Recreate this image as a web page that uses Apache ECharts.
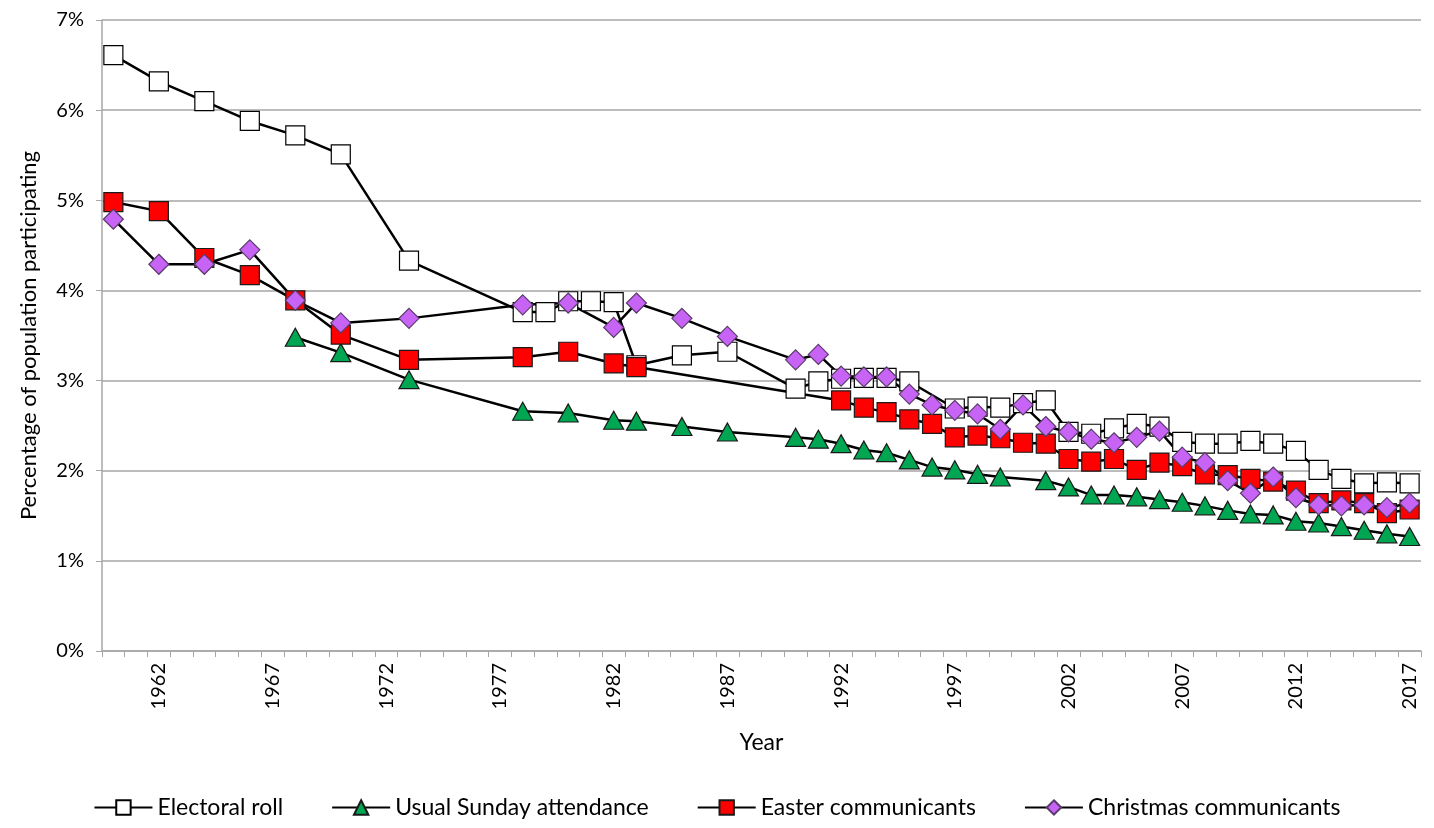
<!DOCTYPE html>
<html>
<head>
<meta charset="utf-8">
<script src="https://cdn.jsdelivr.net/npm/echarts@6/dist/echarts.min.js"></script>
<style>
html,body{margin:0;padding:0;background:#fff;}
#chart{width:1434px;height:828px;}
</style>
</head>
<body>
<div id="chart"></div>
<script>
// Categories
const years = [];
for (let y = 1960; y <= 2017; y++) years.push(String(y));
const yTickLabels = ['0%','1%','2%','3%','4%','5%','6%','7%'];

// Electoral roll
const electoralYears = [1960,1962,1964,1966,1968,1970,1973,1978,1979,1980,1981,1982,1983,1985,1987,1990,1991,1992,1993,1994,1995,1997,1998,1999,2000,2001,2002,2003,2004,2005,2006,2007,2008,2009,2010,2011,2012,2013,2014,2015,2016,2017];
const electoralValues = [6.61,6.32,6.10,5.88,5.72,5.51,4.33,3.76,3.76,3.88,3.88,3.87,3.17,3.28,3.32,2.91,2.99,3.02,3.03,3.03,2.99,2.69,2.71,2.70,2.75,2.78,2.43,2.41,2.47,2.52,2.49,2.32,2.30,2.30,2.33,2.30,2.22,2.01,1.91,1.86,1.87,1.86];

// Usual Sunday attendance
const sundayYears = [1968,1970,1973,1978,1980,1982,1983,1985,1987,1990,1991,1992,1993,1994,1995,1996,1997,1998,1999,2001,2002,2003,2004,2005,2006,2007,2008,2009,2010,2011,2012,2013,2014,2015,2016,2017];
const sundayValues = [3.48,3.31,3.01,2.66,2.64,2.56,2.55,2.49,2.43,2.37,2.35,2.30,2.23,2.20,2.12,2.04,2.01,1.96,1.93,1.89,1.82,1.73,1.73,1.71,1.68,1.65,1.61,1.56,1.52,1.51,1.44,1.42,1.38,1.34,1.30,1.27];

// Easter communicants
const easterYears = [1960,1962,1964,1966,1968,1970,1973,1978,1980,1982,1983,1992,1993,1994,1995,1996,1997,1998,1999,2000,2001,2002,2003,2004,2005,2006,2007,2008,2009,2010,2011,2012,2013,2014,2015,2016,2017];
const easterValues = [4.98,4.88,4.36,4.17,3.89,3.51,3.23,3.26,3.32,3.19,3.15,2.78,2.70,2.65,2.57,2.52,2.37,2.39,2.36,2.31,2.30,2.13,2.10,2.13,2.01,2.09,2.05,1.96,1.95,1.91,1.88,1.78,1.64,1.67,1.64,1.53,1.57];

// Christmas communicants
const christmasYears = [1960,1962,1964,1966,1968,1970,1973,1978,1980,1982,1983,1985,1987,1990,1991,1992,1993,1994,1995,1996,1997,1998,1999,2000,2001,2002,2003,2004,2005,2006,2007,2008,2009,2010,2011,2012,2013,2014,2015,2016,2017];
const christmasValues = [4.79,4.29,4.29,4.45,3.89,3.64,3.69,3.84,3.86,3.59,3.86,3.69,3.49,3.23,3.29,3.05,3.04,3.04,2.85,2.73,2.67,2.63,2.46,2.73,2.49,2.43,2.35,2.31,2.37,2.44,2.15,2.09,1.89,1.75,1.93,1.70,1.62,1.61,1.62,1.59,1.64];

const FONT = 'Lato';
function pairs(ys, vs){ return ys.map((y,i)=>[String(y), vs[i]]); }

const chart = echarts.init(document.getElementById('chart'), null, {renderer:'canvas'});
const lineStyle = {color:'#000', width:2.5};
function series(name, ys, vs, symbol, size, fill, border){
  return {
    name, type:'line', data:pairs(ys,vs), symbol, symbolSize:size,
    showAllSymbol:true, animation:false,
    lineStyle, itemStyle:{color:fill, borderColor:border, borderWidth:1.2},
    emphasis:{disabled:true}
  };
}
chart.setOption({
  backgroundColor:'#fff',
  animation:false,
  grid:{left:102, right:13, top:20, bottom:177, containLabel:false},
  legend:{
    bottom:4, left:'center',
    itemWidth:58, itemHeight:18, itemGap:48,
    textStyle:{fontFamily:FONT, fontSize:23, color:'#000'},
    data:['Electoral roll','Usual Sunday attendance','Easter communicants','Christmas communicants']
  },
  xAxis:{
    type:'category', data:years, boundaryGap:true,
    name:'Year', nameLocation:'middle', nameGap:80,
    nameTextStyle:{fontFamily:FONT, fontSize:23, color:'#000'},
    axisLine:{lineStyle:{color:'#A6A6A6', width:1.5}},
    axisTick:{show:true, interval:0, length:6, lineStyle:{color:'#A6A6A6'}},
    axisLabel:{rotate:90, margin:12, fontFamily:FONT, fontSize:20, color:'#000',
      interval:(idx, val)=> (Number(val)-1962)%5===0 }
  },
  yAxis:{
    type:'value', min:0, max:7, interval:1,
    name:'Percentage of population participating', nameLocation:'middle', nameGap:62,
    nameTextStyle:{fontFamily:FONT, fontSize:22, color:'#000'},
    axisLine:{show:true, lineStyle:{color:'#A6A6A6', width:1.5}},
    axisTick:{show:true, length:6, lineStyle:{color:'#A6A6A6'}},
    splitLine:{lineStyle:{color:'#A6A6A6', width:1.5}},
    axisLabel:{margin:18, fontFamily:FONT, fontSize:20, color:'#000',
      formatter:(v)=> yTickLabels[Math.round(v)] }
  },
  series:[
    series('Electoral roll', electoralYears, electoralValues, 'rect', 19, '#ffffff', '#000'),
    series('Usual Sunday attendance', sundayYears, sundayValues, 'triangle', [20,18], '#00A651', '#1a1a1a'),
    series('Easter communicants', easterYears, easterValues, 'rect', 19, '#FF0000', '#1a1a1a'),
    series('Christmas communicants', christmasYears, christmasValues, 'diamond', [20,20], '#C864F5', '#5a3a6a')
  ]
});
</script>
</body>
</html>
